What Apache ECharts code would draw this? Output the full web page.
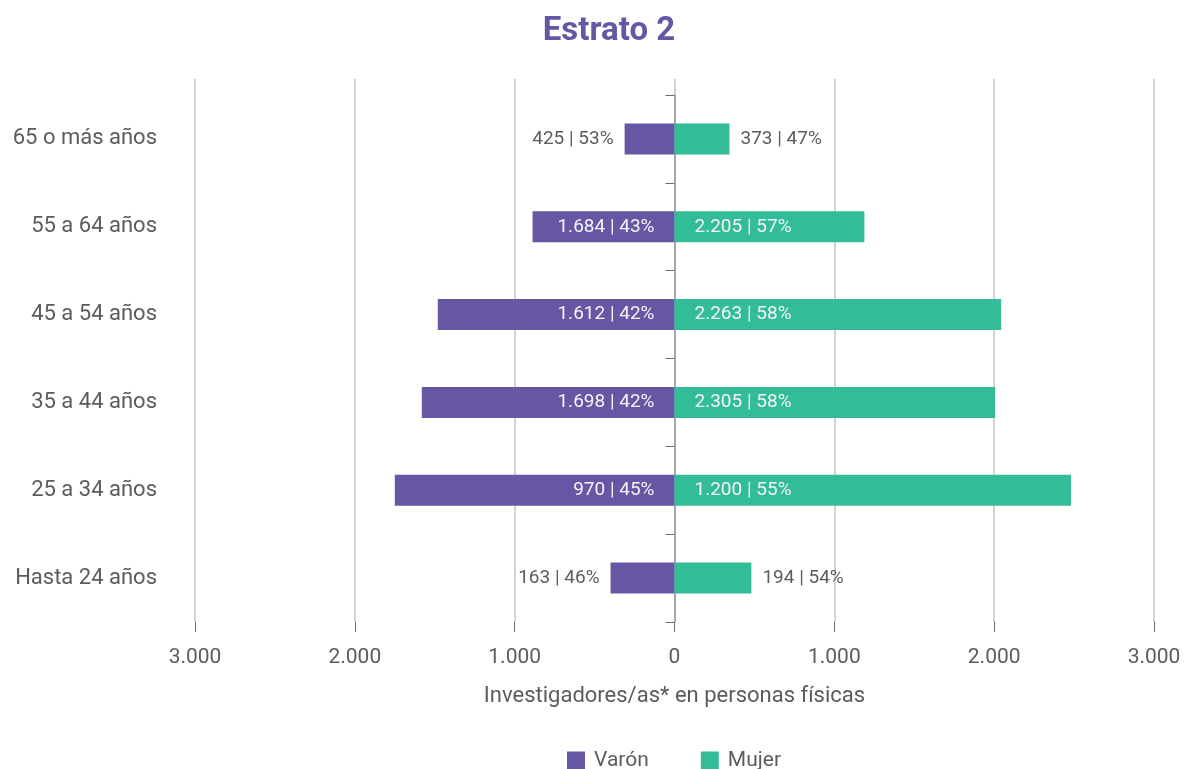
<!DOCTYPE html>
<html lang="es">
<head>
    <meta charset="utf-8"/>
    <title>Estrato 2</title>
    <script src="https://cdn.jsdelivr.net/npm/echarts@6/dist/echarts.min.js"></script>
</head>
<body style="margin:0;background:#fff;">
<style>
    #chart {
        width: 1185px;
        height: 769px;
    }
</style>
<div id="chart"></div>
<script type="text/javascript">

  // categorias de abajo hacia arriba
  var categorias = ['Hasta 24 años', '25 a 34 años', '35 a 44 años', '45 a 54 años', '55 a 64 años', '65 o más años'];
  // largo de las barras tal como se ven en el gráfico
  var varon = [-400, -1750, -1581, -1481, -888, -312];
  var mujer = [481, 2481, 2006, 2044, 1188, 344];
  // textos de las etiquetas
  var etiquetasVaron = ['163 | 46%', '970 | 45%', '1.698 | 42%', '1.612 | 42%', '1.684 | 43%', '425 | 53%'];
  var etiquetasMujer = ['194 | 54%', '1.200 | 55%', '2.305 | 58%', '2.263 | 58%', '2.205 | 57%', '373 | 47%'];
  var ticksX = [-3000, -2000, -1000, 0, 1000, 2000, 3000];

  var MORADO = '#6656a4';
  var VERDE = '#33bc98';
  var GRIS = '#5b5c60';
  var FUENTE = 'Roboto';

  var GRID_IZQ = 195, GRID_DER = 31, ANCHO = 1185 - GRID_IZQ - GRID_DER;

  function fmtMiles(v) {
    var s = String(Math.abs(v));
    return s.replace(/\B(?=(\d{3})+(?!\d))/g, '.');
  }

  function datosBarras(valores, textos, lado) {
    return valores.map(function (v, i) {
      var dentro = Math.abs(v) > 600;
      var pos = dentro ? (lado === 'izq' ? 'insideRight' : 'insideLeft') : (lado === 'izq' ? 'left' : 'right');
      return {
        value: v,
        label: {
          show: true,
          position: pos,
          distance: dentro ? 20 : 11,
          color: dentro ? '#f4f4f4' : GRIS,
          fontFamily: FUENTE,
          fontSize: 19,
          formatter: function () { return textos[i]; }
        }
      };
    });
  }

  var xMin = ticksX[0], xMax = ticksX[ticksX.length - 1];
  // desplazamiento del eje de categorias hasta el cero
  var offsetCero = -ANCHO * (0 - xMin) / (xMax - xMin);

  var chart = echarts.init(document.getElementById('chart'));
  var option = {
    animation: false,
    title: {
      text: 'Estrato 2',
      left: 604,
      top: 10,
      textAlign: 'center',
      textStyle: {color: MORADO, fontFamily: FUENTE, fontWeight: 'bold', fontSize: 33}
    },
    legend: {
      left: 562,
      top: 745,
      itemWidth: 18,
      itemHeight: 18,
      itemGap: 52,
      icon: 'rect',
      data: ['Varón', 'Mujer'],
      textStyle: {color: GRIS, fontFamily: FUENTE, fontSize: 21, padding: [0, 0, 0, 4]}
    },
    grid: [
      {left: GRID_IZQ, right: GRID_DER, top: 95, bottom: 147},
      {left: GRID_IZQ, right: GRID_DER, top: 79, bottom: 147}
    ],
    xAxis: [
      {
        type: 'value',
        gridIndex: 0,
        min: xMin,
        max: xMax,
        interval: 1000,
        name: 'Investigadores/as* en personas físicas',
        nameLocation: 'middle',
        nameGap: 63,
        nameTextStyle: {color: GRIS, fontFamily: FUENTE, fontSize: 22},
        axisLine: {onZero: false, lineStyle: {color: '#8e8e90', width: 1.5}},
        axisTick: {show: true, length: 10, lineStyle: {color: '#6e6e70'}},
        axisLabel: {
          color: GRIS, fontFamily: FUENTE, fontSize: 21, margin: 25,
          formatter: function (v) { return fmtMiles(v); }
        },
        splitLine: {show: false}
      },
      {
        type: 'value',
        gridIndex: 1,
        min: xMin,
        max: xMax,
        interval: 1000,
        axisLine: {show: false},
        axisTick: {show: false},
        axisLabel: {show: false},
        splitLine: {show: true, lineStyle: {color: '#c4c4c6', width: 1.5}}
      }
    ],
    yAxis: [
      {
        type: 'category',
        gridIndex: 0,
        data: categorias,
        axisLine: {show: false},
        axisTick: {show: false},
        axisLabel: {color: GRIS, fontFamily: FUENTE, fontSize: 22, margin: 38}
      },
      {
        type: 'category',
        gridIndex: 0,
        data: categorias,
        position: 'left',
        offset: offsetCero,
        axisLine: {show: true, onZero: false, lineStyle: {color: '#9a9a9c', width: 1.5}},
        axisTick: {show: true, length: 9, lineStyle: {color: '#6e6e70'}},
        axisLabel: {show: false}
      },
      {
        type: 'value',
        gridIndex: 1,
        show: false
      }
    ],
    series: [
      {
        name: 'Varón',
        type: 'bar',
        stack: 'total',
        xAxisIndex: 0,
        yAxisIndex: 0,
        barWidth: 31,
        itemStyle: {color: MORADO},
        data: datosBarras(varon, etiquetasVaron, 'izq')
      },
      {
        name: 'Mujer',
        type: 'bar',
        stack: 'total',
        xAxisIndex: 0,
        yAxisIndex: 0,
        barWidth: 31,
        itemStyle: {color: VERDE},
        data: datosBarras(mujer, etiquetasMujer, 'der')
      }
    ]
  };
  chart.setOption(option);
</script>
</body>
</html>
